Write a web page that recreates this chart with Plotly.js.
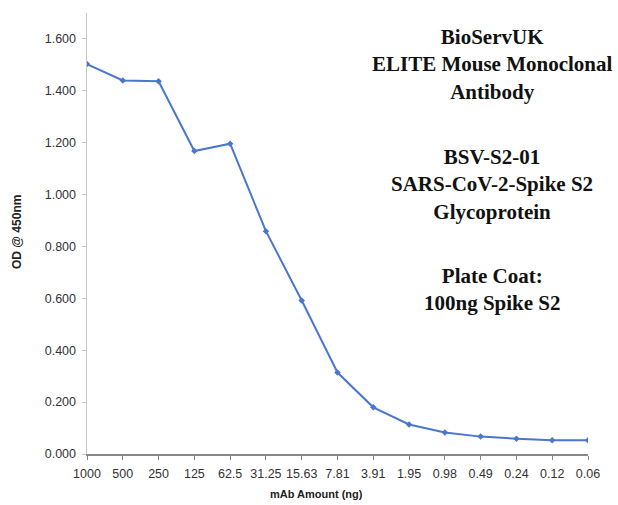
<!DOCTYPE html>
<html>
<head>
<meta charset="utf-8">
<script src="https://cdn.plot.ly/plotly-3.0.1.min.js"></script>
<style>html,body{margin:0;padding:0;background:#fff;}#chart{width:618px;height:505px;}</style>
</head>
<body>
<div id="chart"></div>
<script>
var categories = ["1000","500","250","125","62.5","31.25","15.63","7.81","3.91","1.95","0.98","0.49","0.24","0.12","0.06"];
var odValues = [1.503, 1.440, 1.437, 1.168, 1.196, 0.859, 0.592, 0.314, 0.180, 0.114, 0.083, 0.067, 0.059, 0.053, 0.053];
var yTicks = [0, 0.2, 0.4, 0.6, 0.8, 1.0, 1.2, 1.4, 1.6];
var noteGroup1 = ["BioServUK", "ELITE Mouse Monoclonal", "Antibody"];
var noteGroup2 = ["BSV-S2-01", "SARS-CoV-2-Spike S2", "Glycoprotein"];
var noteGroup3 = ["Plate Coat:", "100ng Spike S2"];

var trace = {
  x: categories.map(function(c, i){ return i; }),
  y: odValues,
  type: 'scatter',
  mode: 'lines+markers',
  line: {color: '#4a77cd', width: 2},
  marker: {color: '#4a77cd', size: 5, symbol: 'diamond'},
  hoverinfo: 'skip'
};

function note(lines, yPix) {
  return {
    xref: 'paper', yref: 'paper',
    x: (492 - 87) / 501, y: (454 - yPix) / 441, xanchor: 'center', yanchor: 'middle',
    showarrow: false, align: 'center',
    text: lines.map(function(s){ return '<b>' + s + '</b>'; }).join('<br>'),
    font: {family: 'Liberation Serif, DejaVu Serif, serif', size: 21, color: '#111111'}
  };
}

var layout = {
  width: 618, height: 505,
  margin: {l: 87, r: 30, t: 13, b: 51},
  paper_bgcolor: '#ffffff',
  plot_bgcolor: '#ffffff',
  showlegend: false,
  font: {family: 'Liberation Sans, Arial, sans-serif', color: '#333333'},
  xaxis: {
    range: [0, 14],
    tickmode: 'array',
    tickvals: categories.map(function(c, i){ return i; }),
    ticktext: categories,
    showgrid: false, zeroline: false,
    showline: true, linecolor: '#888888', linewidth: 1.5,
    ticks: 'outside', ticklen: 4, tickcolor: '#888888',
    ticklabelstandoff: 3,
    tickfont: {size: 12.5, color: '#333333'}
  },
  yaxis: {
    range: [0, 1.7],
    tickmode: 'array',
    tickvals: yTicks,
    ticktext: yTicks.map(function(v){ return v.toFixed(3); }),
    showgrid: false, zeroline: false,
    showline: true, linecolor: '#c8c8c8', linewidth: 1.5,
    ticks: 'outside', ticklen: 4, tickcolor: '#c8c8c8',
    ticklabelstandoff: 3,
    tickfont: {size: 12.5, color: '#333333'}
  },
  annotations: [
    note(noteGroup1, 65),
    note(noteGroup2, 184),
    note(noteGroup3, 289),
    {
      xref: 'paper', yref: 'paper',
      x: (316 - 87) / 501, y: (454 - 494) / 441, xanchor: 'center', yanchor: 'middle',
      showarrow: false, text: '<b>mAb Amount (ng)</b>',
      font: {family: 'Liberation Sans, Arial, sans-serif', size: 11, color: '#222222'}
    },
    {
      xref: 'paper', yref: 'paper',
      x: (17 - 87) / 501, y: (454 - 232) / 441, xanchor: 'center', yanchor: 'middle',
      showarrow: false, textangle: -90, text: '<b>OD @ 450nm</b>',
      font: {family: 'Liberation Sans, Arial, sans-serif', size: 12, color: '#222222'}
    }
  ]
};

Plotly.newPlot('chart', [trace], layout, {displayModeBar: false, staticPlot: true});
</script>
</body>
</html>
